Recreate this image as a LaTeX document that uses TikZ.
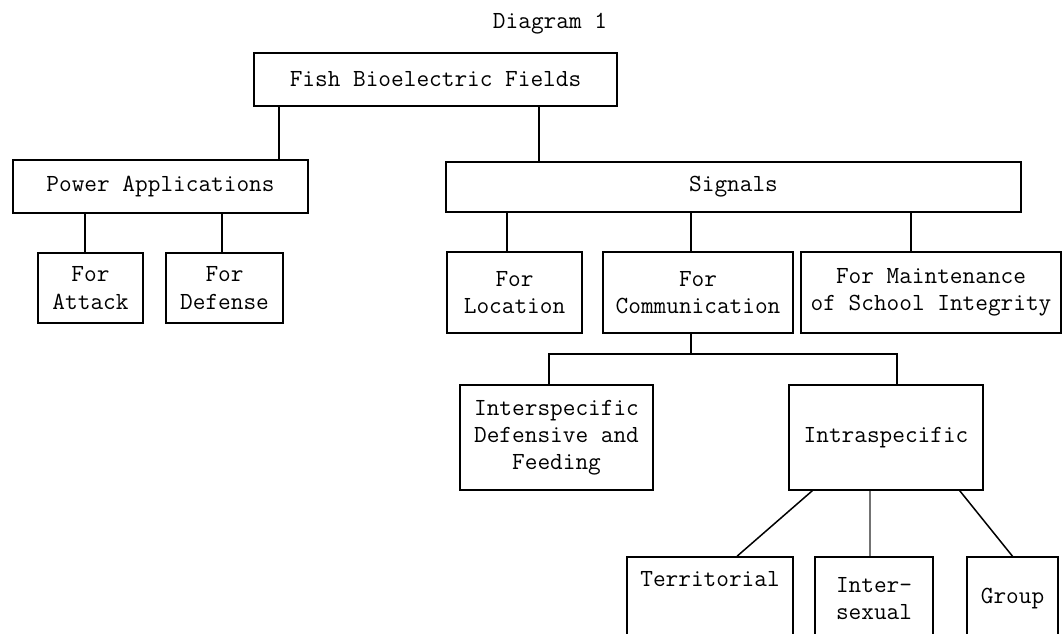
\documentclass[tikz,border=0pt]{standalone}
\usepackage{fontspec}
\usepackage{tikz}
\usetikzlibrary{positioning,calc}
\newcommand{\tw}{\ttfamily\fontsize{12.3}{13.6}\selectfont}
\tikzset{
  box/.style={draw, line width=0.75pt, inner sep=1pt, align=center, font=\tw},
  leaf/.style={box, minimum height=41.5pt},
  link/.style={line width=0.75pt},
  faint/.style={link, black!55},
  caption/.style={font=\tw}
}

\begin{document}
\begin{tikzpicture}[x=0.5pt, y=-0.5pt]
        \clip (0,0) rectangle (1063,633);
        \node[caption] (title) at (550,24) {Diagram 1};
        \node[box, minimum width=181.5pt, minimum height=26.5pt] (fish) at (435.5,79.5) {Fish Bioelectric Fields};
        \node[box, minimum width=147.5pt, minimum height=26.5pt] (power) at (160.5,186.5) {Power Applications};
        \node[box, minimum width=287.5pt, minimum height=25pt] (signals) at (733.5,187) {Signals};
        \node[box, minimum width=52.5pt, minimum height=35pt] (attack) at (90.5,288) {For\\Attack};
        \node[box, minimum width=58.5pt, minimum height=35pt] (defense) at (224.5,288) {For\\Defense};
        \node[box, minimum width=67.5pt, minimum height=40.5pt] (location) at (514.5,292.5) {For\\Location};
        \node[box, minimum width=95pt, minimum height=40.5pt] (comm) at (698,292.5) {For\\Communication};
        \node[box, minimum width=130pt, minimum height=40.5pt] (maint) at (931,292.5) {For Maintenance\\of School Integrity};
        \node[box, minimum width=96.5pt, minimum height=52.5pt] (inter) at (556.5,437.5) {Interspecific\\Defensive and\\Feeding};
        \node[box, minimum width=97pt, minimum height=52.5pt] (intra) at (886,437.5) {Intraspecific};
        \node[leaf, minimum width=83pt, text depth=20pt] (territ) at (710,598.5) {Territorial};
        \node[leaf, minimum width=59pt] (sexual) at (874,598.5) {Inter-\\sexual};
        \node[leaf, minimum width=45.5pt] (group) at (1012.5,598.5) {Group};
        % x positions of the vertical links
        \coordinate (xfp) at (279,0);
        \coordinate (xfs) at (539,0);
        \coordinate (xpa) at (85,0);
        \coordinate (xpd) at (222,0);
        \coordinate (xsl) at (507,0);
        \coordinate (xsc) at (691,0);
        \coordinate (xsm) at (911,0);
        \coordinate (xci) at (549,0);
        \coordinate (xcj) at (897,0);
        \coordinate (bar) at (0,354);
        \draw[link] (fish.south -| xfp) -- (power.north -| xfp);
        \draw[link] (fish.south -| xfs) -- (signals.north -| xfs);
        \draw[link] (power.south -| xpa) -- (attack.north -| xpa);
        \draw[link] (power.south -| xpd) -- (defense.north -| xpd);
        \draw[link] (signals.south -| xsl) -- (location.north -| xsl);
        \draw[link] (signals.south -| xsc) -- (comm.north -| xsc);
        \draw[link] (signals.south -| xsm) -- (maint.north -| xsm);
        \draw[link] (comm.south -| xsc) -- (bar -| xsc);
        \draw[link] (inter.north -| xci) -- (bar -| xci) -- (bar -| xcj) -- (intra.north -| xcj);
        \draw[link] ([xshift=12pt]intra.south west) -- ([xshift=13.5pt]territ.north);
        \draw[faint] ([xshift=-8pt]intra.south) -- ([xshift=-2pt]sexual.north);
        \draw[link] ([xshift=-12pt]intra.south east) -- (group.north);
      \end{tikzpicture}
\end{document}
